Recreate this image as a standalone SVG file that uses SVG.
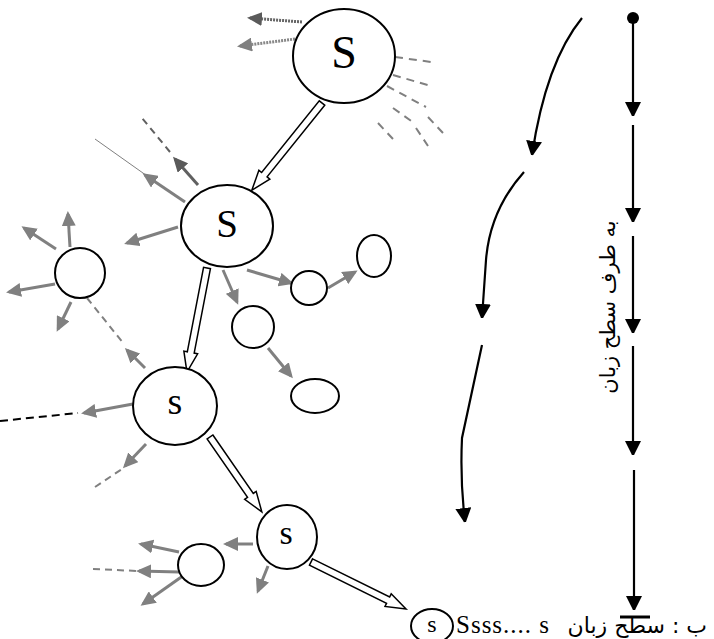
<svg xmlns="http://www.w3.org/2000/svg" width="714" height="639" viewBox="0 0 714 639">
<defs>
<style>
.nd{fill:#fff;stroke:#000;stroke-width:2}
.lbl{font-family:"Liberation Serif","Times New Roman",serif;fill:#000;text-anchor:middle}
.ga{stroke:#808080;stroke-width:3;fill:none;marker-end:url(#gh)}
.gd{stroke:#808080;stroke-width:2;fill:none;stroke-dasharray:7,5}
.bd{stroke:#000;stroke-width:2;fill:none;stroke-dasharray:8,5}
.ho{fill:#fff;stroke:#000;stroke-width:1.5;stroke-linejoin:miter}
.ba{stroke:#000;stroke-width:2.2;fill:none;marker-end:url(#bh)}
.fa{font-family:"DejaVu Sans","Noto Sans",sans-serif;fill:#000}
</style>
<marker id="gh" markerUnits="userSpaceOnUse" markerWidth="16" markerHeight="14" refX="12" refY="7" orient="auto"><path d="M0,0 L15,7 L0,14 Z" fill="#808080"/></marker>
<marker id="dh" markerUnits="userSpaceOnUse" markerWidth="16" markerHeight="14" refX="12" refY="7" orient="auto"><path d="M0,0 L15,7 L0,14 Z" fill="#5a5a5a"/></marker>
<marker id="bh" markerUnits="userSpaceOnUse" markerWidth="14" markerHeight="18" refX="14" refY="8" orient="auto"><path d="M0,0 L16,8 L0,16 Z" fill="#000"/></marker>
</defs>
<rect width="714" height="639" fill="#fff"/>
<g id="connectors">
<path d="M302,22 L250,18" stroke="#666" stroke-width="3" stroke-dasharray="2,1" fill="none" marker-end="url(#dh)"/>
<path d="M295,39 L240,46" stroke="#888" stroke-width="3" stroke-dasharray="2,1" fill="none" marker-end="url(#gh)"/>
<g stroke="#808080" stroke-width="2" stroke-dasharray="8,6" fill="none">
<path d="M395,57 L431,62"/>
<path d="M393,75 L431,86"/>
<path d="M387,86 L426,107"/>
<path d="M393,108 L414,123"/>
<path d="M428,117 L443,133"/>
<path d="M378,123 L393,139"/>
<path d="M416,128 L428,146"/>
</g>
<path d="M198,185 L175,159" stroke="#606060" stroke-width="3" fill="none" marker-end="url(#dh)"/>
<path d="M170,152 L142,118" stroke="#606060" stroke-width="2" stroke-dasharray="7,5" fill="none"/>
<path d="M95,139 L150,178" stroke="#808080" stroke-width="1" fill="none"/>
<path class="ga" d="M185,202 L145,175"/>
<path class="ga" d="M178,227 L127,243"/>
<path class="ga" d="M247,270 L291,283"/>
<path class="ga" d="M328,288 L355,272"/>
<path class="ga" d="M223,270 L237,302"/>
<path class="ga" d="M268,348 L291,376"/>
<path class="ga" d="M70,247 L68,214"/>
<path class="ga" d="M56,249 L24,228"/>
<path class="ga" d="M55,284 L9,292"/>
<path class="ga" d="M71,302 L58,329"/>
<path class="gd" d="M87,298 L124,344"/>
<path class="ga" d="M145,368 L127,350"/>
<path class="ga" d="M133,404 L84,413"/>
<path class="bd" d="M0,421 L78,413"/>
<path class="ga" d="M146,444 L125,466"/>
<path class="gd" d="M95,487 L122,469"/>
<path class="ga" d="M253,544 L226,544"/>
<path class="ga" d="M268,566 L258,591"/>
<path class="ga" d="M179,552 L141,544"/>
<path class="ga" d="M179,572 L139,571"/>
<path class="gd" d="M93,569 L138,571"/>
<path class="ga" d="M187,573 L143,604"/>
<path class="ho" transform="translate(322,103) rotate(128.8)" d="M0,-3.5 H92 V-7 L112,0 L92,7 V3.5 H0 Z"/>
<path class="ho" transform="translate(207,268) rotate(100.9)" d="M0,-3.5 H86 V-7 L106,0 L86,7 V3.5 H0 Z"/>
<path class="ho" transform="translate(210,437) rotate(55.3)" d="M0,-3.5 H71 V-7 L91,0 L71,7 V3.5 H0 Z"/>
<path class="ho" transform="translate(311,562) rotate(26.3)" d="M0,-3.5 H86 V-7 L106,0 L86,7 V3.5 H0 Z"/>
<circle cx="633" cy="18" r="6" fill="#000"/>
<path class="ba" d="M633,18 L633,116"/>
<path class="ba" d="M633,125 L633,222"/>
<path class="ba" d="M633,236 L633,333"/>
<path class="ba" d="M633,346 L633,455"/>
<path class="ba" d="M634,470 L634,610"/>
<path d="M620,617 L650,617" stroke="#000" stroke-width="3"/>
<path class="ba" d="M582,18 Q546,62 532,155"/>
<path class="ba" d="M524,172 Q490,210 486,260 L482,318"/>
<path class="ba" d="M482,345 L462,438 Q460,480 465,522"/>
</g>
<g id="n1"><ellipse class="nd" cx="344" cy="56" rx="51" ry="47"/><text class="lbl" x="344" y="68" font-size="46">S</text></g>
<g id="n2"><ellipse class="nd" cx="227" cy="226" rx="46" ry="41"/><text class="lbl" x="227" y="237" font-size="39">S</text></g>
<g id="n3"><ellipse class="nd" cx="175" cy="406" rx="42" ry="39"/><text class="lbl" x="175" y="414" font-size="38">s</text></g>
<g id="n4"><ellipse class="nd" cx="287" cy="537" rx="30" ry="32"/><text class="lbl" x="286" y="544" font-size="34">s</text></g>
<g id="n5"><ellipse class="nd" cx="80" cy="273" rx="25" ry="25"/></g>
<g id="n6"><ellipse class="nd" cx="309" cy="288" rx="18" ry="17"/></g>
<g id="n7"><ellipse class="nd" cx="374" cy="256" rx="17" ry="21"/></g>
<g id="n8"><ellipse class="nd" cx="253" cy="327" rx="21" ry="21"/></g>
<g id="n9"><ellipse class="nd" cx="315" cy="396" rx="24" ry="17"/></g>
<g id="n10"><ellipse class="nd" cx="201" cy="565" rx="23" ry="21"/></g>
<g id="n11"><ellipse class="nd" cx="432" cy="626" rx="21" ry="17" stroke-width="1.5"/><text class="lbl" x="432" y="632" font-size="24">s</text></g>
<g id="labels">
<text x="456" y="633" font-family="Liberation Serif,serif" font-size="25" letter-spacing="1">Ssss.... s</text>
<text class="fa" x="707" y="633" font-size="22" text-anchor="end">ب : سطح زبان</text>
<text class="fa" transform="translate(615,307) rotate(-90)" font-size="21" text-anchor="middle">به طرف سطح زبان</text>
</g>
</svg>
